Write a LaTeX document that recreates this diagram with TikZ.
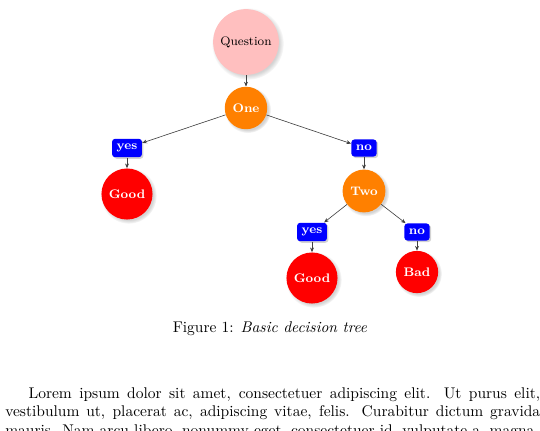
\documentclass[tikz,border=0pt]{standalone}
\usepackage{tikz}
\usetikzlibrary{
    positioning,
    arrows.meta,
    shadows
}
\tikzset{
    >=Stealth,
    treenode/.style={
        circle,
        inner sep=3.5pt,
        font=\footnotesize,
        circular drop shadow={shadow xshift=1pt, shadow yshift=-1pt, opacity=0.35}
    },
    question/.style={treenode, fill=pink},
    decision/.style={treenode, fill=orange, text=white, font=\footnotesize\bfseries},
    leaf/.style={treenode, fill=red, text=white, font=\footnotesize\bfseries},
    answer/.style={
        rectangle,
        rounded corners=2pt,
        fill=blue,
        text=white,
        font=\footnotesize\bfseries,
        inner xsep=3pt,
        minimum height=11pt,
        drop shadow={shadow xshift=1pt, shadow yshift=-1pt, opacity=0.35}
    }
}

\begin{document}
\begin{tikzpicture}[
    x=0.645pt,
    y=-0.645pt,
    >={Stealth[length=3pt, width=2.5pt]}
]
    \useasboundingbox (0,0) rectangle (540,430);
    \clip (0,0) rectangle (540,430);

    % Nodos del arbol
    \node[question] (q)     at (246,42)  {Question};
    \node[decision] (one)   at (246,108) {One};
    \node[answer]   (yes1)  at (127,148) {yes};
    \node[leaf]     (good1) at (127,194) {Good};
    \node[answer]   (no1)   at (364,148) {no};
    \node[decision] (two)   at (364,191) {Two};
    \node[answer]   (yes2)  at (312,232) {yes};
    \node[answer]   (no2)   at (417,232) {no};
    \node[leaf]     (good2) at (312,278) {Good};
    \node[leaf]     (bad)   at (417,272) {Bad};

    % Aristas
    \path[->, draw=black!75]
        (q)    edge (one)
        (one)  edge (yes1)
               edge (no1)
        (yes1) edge (good1)
        (no1)  edge (two)
        (two)  edge (yes2)
               edge (no2)
        (yes2) edge (good2)
        (no2)  edge (bad);

    % Leyenda y texto
    \node (caption) at (270,329) {Figure 1: \textit{Basic decision tree}};
    \node[anchor=north west, inner sep=0pt, text width=345pt, align=justify]
        (body) at (5,387)
        {\hspace*{15pt}Lorem ipsum dolor sit amet, consectetuer adipiscing elit. Ut purus elit,
        vestibulum ut, placerat ac, adipiscing vitae, felis. Curabitur dictum gravida
        mauris. Nam arcu libero, nonummy eget, consectetuer id, vulputate a, magna.};

\end{tikzpicture}
\end{document}
